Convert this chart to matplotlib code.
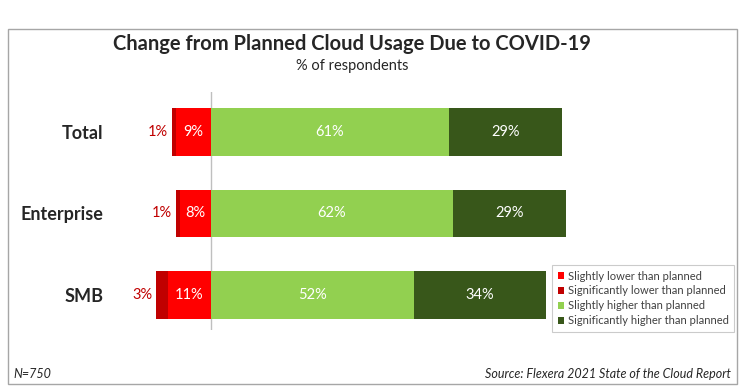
import matplotlib.pyplot as plt
from matplotlib.patches import Rectangle

# data
groups = ['Total', 'Enterprise', 'SMB']
slightly_lower = [9, 8, 11]
significantly_lower = [1, 1, 3]
slightly_higher = [61, 62, 52]
significantly_higher = [29, 29, 34]
legend_labels = ['Slightly lower than planned', 'Significantly lower than planned',
                 'Slightly higher than planned', 'Significantly higher than planned']

c_red = '#FF0000'
c_dred = '#C00000'
c_lgreen = '#92D050'
c_dgreen = '#38571A'

plt.rcParams['font.family'] = ['Lato', 'DejaVu Sans']

W, H = 744, 392
fig = plt.figure(figsize=(W / 100, H / 100), dpi=100)

# outer border box
fig.patches.append(Rectangle((8 / W, 1 - 384 / H), 729 / W, 355 / H, transform=fig.transFigure,
                             fill=False, edgecolor='#A6A6A6', linewidth=1))

# axes placed in pixel terms: zero line at x=211, ~3.9 px per % (keeps SMB clear of legend)
ax_l, ax_r = 120, 700
ppp = 3.9
ax = fig.add_axes([ax_l / W, 1 - 330 / H, (ax_r - ax_l) / W, (330 - 92) / H])
ax.set_xlim(-(211 - ax_l) / ppp, (ax_r - 211) / ppp)
ax.set_ylim(2.43, -0.49)

y = range(len(groups))
h = 0.58
b1 = ax.barh(y, [-v for v in slightly_lower], height=h, color=c_red, label=legend_labels[0])
b2 = ax.barh(y, [-v for v in significantly_lower], left=[-v for v in slightly_lower], height=h,
             color=c_dred, label=legend_labels[1])
b3 = ax.barh(y, slightly_higher, height=h, color=c_lgreen, label=legend_labels[2])
b4 = ax.barh(y, significantly_higher, left=slightly_higher, height=h, color=c_dgreen,
             label=legend_labels[3])

ax.axvline(0, color='#BFBFBF', linewidth=1, zorder=0)

for i in y:
    ax.text(-slightly_lower[i] / 2, i, f'{slightly_lower[i]}%', ha='center', va='center',
            color='white', fontsize=10.5)
    left_edge = -(slightly_lower[i] + significantly_lower[i])
    ax.text(left_edge - 1.0, i, f'{significantly_lower[i]}%', ha='right', va='center',
            color=c_dred, fontsize=10.5)
    ax.text(slightly_higher[i] / 2, i, f'{slightly_higher[i]}%', ha='center', va='center',
            color='white', fontsize=10.5)
    ax.text(slightly_higher[i] + significantly_higher[i] / 2, i, f'{significantly_higher[i]}%',
            ha='center', va='center', color='white', fontsize=10.5)

ax.set_yticks(list(y))
ax.set_yticklabels(groups, fontsize=13, fontweight='bold', color='#262626')
ax.tick_params(axis='y', length=0, pad=12)
ax.set_xticks([])
for s in ax.spines.values():
    s.set_visible(False)

leg = fig.legend(handles=[b1, b2, b3, b4], labels=legend_labels, loc='upper left',
                 bbox_to_anchor=(552 / W, 1 - 265 / H), fontsize=8, frameon=True,
                 fancybox=False, edgecolor='#BFBFBF', handlelength=0.6, handleheight=0.6,
                 handletextpad=0.3, labelspacing=0.35, borderpad=0.5, borderaxespad=0)
leg.get_frame().set_linewidth(0.8)
for t in leg.get_texts():
    t.set_color('#404040')

fig.text(352 / W, 1 - 44 / H, 'Change from Planned Cloud Usage Due to COVID-19', ha='center',
         va='center', fontsize=14.5, fontweight='bold', color='#262626')
fig.text(352 / W, 1 - 66 / H, '% of respondents', ha='center', va='center', fontsize=10.5,
         color='#262626')
fig.text(13 / W, 1 - 374 / H, 'N=750', ha='left', va='center', fontsize=9, style='italic',
         color='#262626')
fig.text(731 / W, 1 - 374 / H, 'Source: Flexera 2021 State of the Cloud Report', ha='right',
         va='center', fontsize=9, style='italic', color='#262626')

fig.savefig('out.png', dpi=100, facecolor='white')
